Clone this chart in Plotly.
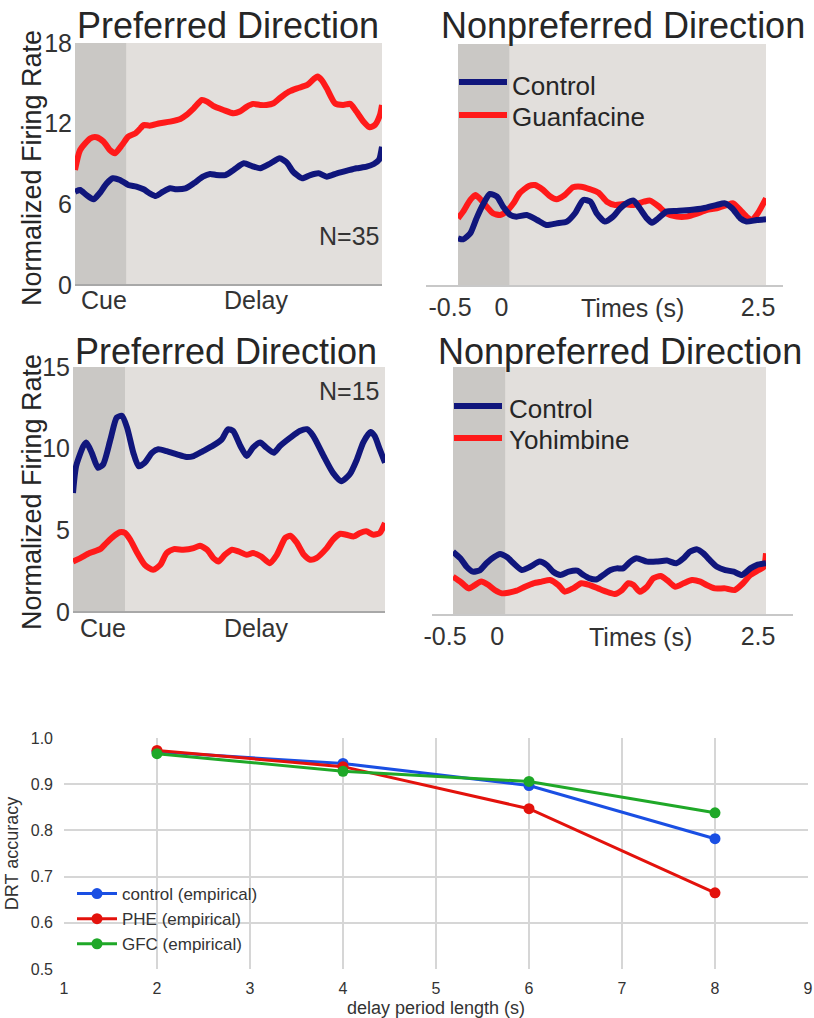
import plotly.graph_objects as go

# ---------------- data ----------------
# Guanfacine study, preferred direction (time in s, normalized firing rate)
gf_pref_ctrl_t = [-0.50, -0.45, -0.39, -0.32, -0.26, -0.19, -0.13, -0.06, 0.02, 0.10, 0.17, 0.23, 0.29, 0.36,
                  0.43, 0.49, 0.58, 0.66, 0.75, 0.82, 0.88, 0.97, 1.05, 1.15, 1.23, 1.31, 1.41, 1.50, 1.57,
                  1.63, 1.72, 1.80, 1.88, 1.96, 2.06, 2.16, 2.25, 2.35, 2.42, 2.47, 2.50]
gf_pref_ctrl = [6.94, 7.07, 6.70, 6.37, 6.82, 7.56, 7.94, 7.81, 7.44, 7.32, 7.12, 6.82, 6.62, 6.94, 7.19, 7.12,
                7.19, 7.56, 8.06, 8.26, 8.18, 8.18, 8.56, 9.05, 8.85, 8.68, 9.05, 9.42, 9.10, 8.43, 7.94, 8.18,
                8.31, 8.06, 8.31, 8.51, 8.68, 8.80, 9.00, 9.30, 10.29]
gf_pref_drug_t = [-0.50, -0.45, -0.35, -0.29, -0.22, -0.16, -0.11, -0.04, 0.02, 0.09, 0.14, 0.17, 0.23, 0.33,
                  0.43, 0.53, 0.59, 0.66, 0.74, 0.79, 0.85, 0.95, 1.05, 1.11, 1.18, 1.24, 1.31, 1.37, 1.44,
                  1.50, 1.59, 1.67, 1.77, 1.83, 1.87, 1.91, 1.96, 2.04, 2.12, 2.19, 2.25, 2.32, 2.38, 2.43,
                  2.48, 2.50]
gf_pref_drug = [8.56, 10.04, 10.91, 10.99, 10.66, 10.04, 9.80, 10.42, 11.04, 11.28, 11.66, 11.90, 11.85, 12.03,
                12.15, 12.35, 12.65, 13.14, 13.76, 13.64, 13.32, 13.02, 12.77, 12.90, 13.27, 13.47, 13.39, 13.39,
                13.52, 13.89, 14.38, 14.63, 14.88, 15.30, 15.50, 15.25, 14.63, 13.52, 13.39, 13.47, 12.90, 12.15,
                11.73, 11.90, 12.65, 13.39]

# Guanfacine study, nonpreferred direction
gf_non_ctrl_t = [-0.50, -0.45, -0.38, -0.32, -0.25, -0.19, -0.12, -0.06, 0.01, 0.07, 0.17, 0.27, 0.36, 0.46,
                 0.56, 0.64, 0.72, 0.79, 0.85, 0.93, 1.01, 1.08, 1.14, 1.21, 1.27, 1.34, 1.39, 1.45, 1.53,
                 1.63, 1.76, 1.89, 2.02, 2.10, 2.17, 2.25, 2.31, 2.41, 2.50]
gf_non_ctrl = [3.55, 3.47, 3.92, 5.03, 6.15, 6.85, 6.65, 5.90, 5.28, 5.16, 5.28, 4.91, 4.54, 4.66, 4.79, 5.41,
               6.40, 6.27, 5.41, 4.79, 5.16, 5.78, 6.15, 6.35, 5.78, 5.03, 4.71, 5.03, 5.53, 5.58, 5.65, 5.78,
               6.03, 6.15, 5.78, 5.03, 4.79, 4.91, 4.96]
gf_non_drug_t = [-0.50, -0.45, -0.38, -0.33, -0.29, -0.22, -0.16, -0.09, -0.03, 0.04, 0.10, 0.19, 0.25, 0.33,
                 0.40, 0.46, 0.54, 0.62, 0.70, 0.79, 0.87, 0.95, 1.03, 1.11, 1.21, 1.31, 1.37, 1.45, 1.53,
                 1.63, 1.73, 1.82, 1.92, 2.02, 2.12, 2.18, 2.25, 2.31, 2.36, 2.42, 2.50]
gf_non_drug = [5.03, 5.53, 6.40, 6.77, 6.52, 5.90, 5.41, 5.28, 5.53, 6.15, 6.90, 7.44, 7.51, 7.14, 6.65, 6.45,
               6.77, 7.34, 7.39, 7.19, 6.94, 6.27, 6.03, 6.10, 6.03, 6.27, 6.35, 5.95, 5.41, 5.16, 5.16, 5.36,
               5.65, 5.78, 6.03, 6.15, 5.65, 5.16, 4.91, 5.41, 6.52]

# Yohimbine study, preferred direction
yo_pref_ctrl_t = [-0.50, -0.47, -0.40, -0.37, -0.32, -0.26, -0.21, -0.14, -0.08, -0.03, 0.02, 0.08, 0.13, 0.19,
                  0.26, 0.32, 0.40, 0.50, 0.59, 0.66, 0.75, 0.85, 0.93, 0.99, 1.04, 1.11, 1.17, 1.23, 1.30,
                  1.36, 1.43, 1.49, 1.59, 1.68, 1.75, 1.81, 1.91, 2.00, 2.08, 2.16, 2.23, 2.29, 2.36, 2.40,
                  2.45, 2.50]
yo_pref_ctrl = [7.29, 8.93, 10.16, 10.37, 9.75, 8.83, 9.04, 10.57, 11.90, 12.01, 11.29, 9.75, 8.93, 9.14, 9.75,
                9.96, 9.85, 9.65, 9.49, 9.55, 9.85, 10.20, 10.57, 11.19, 11.08, 10.16, 9.55, 10.06, 10.37, 10.06,
                9.75, 10.16, 10.67, 11.08, 11.19, 10.78, 9.55, 8.52, 8.01, 8.42, 9.34, 10.37, 11.02, 10.78, 9.96,
                9.14]
yo_pref_drug_t = [-0.50, -0.43, -0.34, -0.24, -0.18, -0.11, -0.05, 0.00, 0.05, 0.11, 0.19, 0.27, 0.34, 0.40,
                  0.47, 0.56, 0.66, 0.72, 0.79, 0.85, 0.90, 0.96, 1.03, 1.09, 1.17, 1.23, 1.31, 1.39, 1.46,
                  1.54, 1.59, 1.65, 1.72, 1.78, 1.84, 1.94, 2.00, 2.07, 2.13, 2.20, 2.26, 2.32, 2.39, 2.45, 2.50]
yo_pref_drug = [3.09, 3.30, 3.61, 3.85, 4.22, 4.63, 4.88, 4.84, 4.43, 3.71, 2.89, 2.58, 2.89, 3.61, 3.85, 3.81,
                3.91, 4.06, 3.81, 3.30, 3.09, 3.50, 3.81, 3.71, 3.50, 3.61, 3.40, 2.99, 3.50, 4.53, 4.67, 4.26,
                3.50, 3.20, 3.30, 3.91, 4.43, 4.79, 4.73, 4.63, 4.84, 4.94, 4.73, 4.84, 5.45]

# Yohimbine study, nonpreferred direction
yo_non_ctrl_t = [-0.50, -0.43, -0.37, -0.31, -0.24, -0.18, -0.11, -0.05, 0.02, 0.08, 0.16, 0.24, 0.33, 0.40,
                 0.46, 0.53, 0.61, 0.69, 0.75, 0.81, 0.88, 0.94, 1.01, 1.07, 1.13, 1.20, 1.26, 1.36, 1.45,
                 1.55, 1.64, 1.71, 1.77, 1.84, 1.90, 1.96, 2.03, 2.11, 2.19, 2.27, 2.35, 2.41, 2.50]
yo_non_ctrl = [3.83, 3.43, 2.92, 2.62, 2.72, 3.13, 3.49, 3.69, 3.49, 3.13, 2.72, 2.92, 3.23, 3.02, 2.62, 2.42,
               2.62, 2.68, 2.42, 2.22, 2.16, 2.42, 2.72, 2.82, 2.82, 3.23, 3.43, 3.23, 3.23, 3.29, 3.13, 3.43,
               3.83, 3.97, 3.73, 3.33, 2.92, 2.72, 2.62, 2.42, 2.82, 3.02, 3.13]
yo_non_drug_t = [-0.50, -0.43, -0.35, -0.29, -0.23, -0.16, -0.10, -0.03, 0.03, 0.11, 0.19, 0.27, 0.35, 0.43,
                 0.51, 0.57, 0.65, 0.73, 0.81, 0.89, 0.97, 1.05, 1.12, 1.18, 1.23, 1.29, 1.36, 1.42, 1.49,
                 1.55, 1.63, 1.71, 1.79, 1.87, 1.93, 2.01, 2.11, 2.20, 2.28, 2.35, 2.43, 2.48, 2.50]
yo_non_drug = [2.32, 2.02, 1.61, 1.81, 2.02, 1.81, 1.51, 1.31, 1.35, 1.47, 1.71, 1.92, 2.02, 2.12, 1.81, 1.41,
               1.61, 1.92, 1.81, 1.61, 1.41, 1.27, 1.51, 1.92, 1.81, 1.41, 1.71, 2.22, 2.36, 2.12, 1.71, 1.92,
               2.12, 2.02, 1.81, 1.61, 1.61, 1.51, 1.92, 2.42, 2.72, 2.92, 3.73]

# Delayed-response task accuracy vs delay length
delay_s = [2, 4, 6, 8]
acc_control = [0.970, 0.945, 0.897, 0.782]
acc_phe = [0.973, 0.938, 0.847, 0.665]
acc_gfc = [0.966, 0.928, 0.906, 0.838]
acc_names = ["control (empirical)", "PHE (empirical)", "GFC (empirical)"]

pref_yticks_gf = [0, 6, 12, 18]
pref_yticks_yo = [0, 5, 10, 15]
time_ticks = [-0.5, 0, 2.5]
time_ticktext = ["-0.5", "0", "2.5"]

# ---------------- styling ----------------
W, H = 814, 1018
FONT = "Liberation Sans, Arial, sans-serif"
TXT = "#262626"
NAVY = "#10167c"
RED = "#ff1a1a"
PANEL_BG = "#e2dfdc"
CUE_BG = "#cac8c5"
C_BLUE, C_RED, C_GREEN = "#1a4fe3", "#e3120c", "#1fa828"


def px(x):
    return x / W


def py(y):
    return 1 - y / H


fig = go.Figure()

panels = [
    # axis suffix, x-domain px, y-domain px, y-range, control, drug
    ("", (75, 382), (43, 285), [0, 18], (gf_pref_ctrl_t, gf_pref_ctrl), (gf_pref_drug_t, gf_pref_drug)),
    ("2", (458, 766), (44, 286), [0, 18], (gf_non_ctrl_t, gf_non_ctrl), (gf_non_drug_t, gf_non_drug)),
    ("3", (73, 385), (367, 612), [0, 15], (yo_pref_ctrl_t, yo_pref_ctrl), (yo_pref_drug_t, yo_pref_drug)),
    ("4", (453, 766), (367, 615), [0, 15], (yo_non_ctrl_t, yo_non_ctrl), (yo_non_drug_t, yo_non_drug)),
]

shapes = []
layout_axes = {}
for suf, (x0, x1), (y0, y1), yr, ctrl, drug in panels:
    xa, ya = "x" + suf, "y" + suf
    for (t, v), col in ((drug, RED), (ctrl, NAVY)):
        fig.add_trace(go.Scatter(x=t, y=v, xaxis=xa, yaxis=ya, mode="lines",
                                 line=dict(color=col, width=6, shape="spline", smoothing=0.6),
                                 showlegend=False, hoverinfo="skip"))
    layout_axes["xaxis" + suf] = dict(domain=[px(x0), px(x1)], anchor=ya, range=[-0.5, 2.5],
                                      showgrid=False, zeroline=False, showline=False, ticks="",
                                      showticklabels=False, automargin=False)
    layout_axes["yaxis" + suf] = dict(domain=[py(y1), py(y0)], anchor=xa, range=yr,
                                      showgrid=False, zeroline=False, showline=False, ticks="",
                                      showticklabels=False, automargin=False)
    # panel background and cue epoch shading
    shapes.append(dict(type="rect", xref=xa + " domain", yref=ya + " domain", x0=0, x1=1, y0=0, y1=1,
                       fillcolor=PANEL_BG, line_width=0, layer="below"))
    shapes.append(dict(type="rect", xref=xa, yref=ya + " domain", x0=-0.5, x1=0, y0=0, y1=1,
                       fillcolor=CUE_BG, line_width=0, layer="below"))

# y tick labels on the preferred-direction panels
for suf, vals in (("", pref_yticks_gf), ("3", pref_yticks_yo)):
    layout_axes["yaxis" + suf].update(showticklabels=True, tickvals=vals,
                                      tickfont=dict(size=25, color="#333333", family=FONT),
                                      ticklabelstandoff=2)
# time tick labels on the nonpreferred-direction panels
for suf in ("2", "4"):
    layout_axes["xaxis" + suf].update(showticklabels=True, tickvals=time_ticks, ticktext=time_ticktext,
                                      tickfont=dict(size=25, color="#333333", family=FONT),
                                      ticklabelshift=-8, ticklabelstandoff=4)

# baselines under the panels
for (xa0, xa1, yy, col) in ((75, 382, 285, "#a8a8a8"), (426, 783, 286, "#c8c8c8"),
                            (73, 385, 612, "#a8a8a8"), (432, 793, 615, "#c8c8c8")):
    shapes.append(dict(type="line", xref="paper", yref="paper", x0=px(xa0), x1=px(xa1),
                       y0=py(yy), y1=py(yy), line=dict(color=col, width=2)))

# in-panel legends
legend_rows = [(459, 507, 82, 510, 86, NAVY, "Control"), (459, 507, 115, 510, 117, RED, "Guanfacine"),
               (454, 502, 406, 507, 409, NAVY, "Control"), (454, 502, 438, 507, 440, RED, "Yohimbine")]
annotations = []
for lx0, lx1, ly, tx, ty, col, label in legend_rows:
    shapes.append(dict(type="line", xref="paper", yref="paper", x0=px(lx0), x1=px(lx1),
                       y0=py(ly), y1=py(ly), line=dict(color=col, width=6)))
    annotations.append(dict(text=label, x=px(tx), y=py(ty), xref="paper", yref="paper",
                            xanchor="left", yanchor="middle", showarrow=False,
                            font=dict(size=26, color=TXT, family=FONT)))


def note(text, x, y, size, xanchor="center", angle=0, color=TXT):
    annotations.append(dict(text=text, x=px(x), y=py(y), xref="paper", yref="paper",
                            xanchor=xanchor, yanchor="middle", showarrow=False, textangle=angle,
                            font=dict(size=size, color=color, family=FONT)))


note("Preferred Direction", 228, 25, 36)
note("Nonpreferred Direction", 623, 25, 36)
note("Preferred Direction", 226, 351, 36)
note("Nonpreferred Direction", 620, 351, 36)
note("Normalized Firing Rate", 32, 168, 27, angle=-90)
note("Normalized Firing Rate", 32, 492, 27, angle=-90)
note("N=35", 381, 236, 25, xanchor="right", color="#333333")
note("N=15", 381, 391, 25, xanchor="right", color="#333333")
note("Cue", 104, 300, 25, color="#333333")
note("Delay", 256, 300, 25, color="#333333")
note("Cue", 103, 628, 25, color="#333333")
note("Delay", 256, 628, 25, color="#333333")
note("Times (s)", 632, 308, 25, color="#333333")
note("Times (s)", 640, 637, 25, color="#333333")

# ---------------- accuracy chart ----------------
for name, vals, col in zip(acc_names, (acc_control, acc_phe, acc_gfc), (C_BLUE, C_RED, C_GREEN)):
    fig.add_trace(go.Scatter(x=delay_s, y=vals, xaxis="x5", yaxis="y5", name=name, mode="lines+markers",
                             legendgroup=name, line=dict(color=col, width=3),
                             marker=dict(color=col, size=11)))

GRID = "#d6d6d6"
layout_axes["xaxis5"] = dict(domain=[px(64), px(808)], anchor="y5", range=[1, 9], dtick=1,
                             showgrid=True, gridcolor=GRID, gridwidth=1.5, zeroline=False,
                             showline=False, ticks="", tickfont=dict(size=16, color="#333333"),
                             ticklabelstandoff=8, automargin=False,
                             title=dict(text="delay period length (s)", font=dict(size=18, color="#333333"),
                                        standoff=14))
layout_axes["yaxis5"] = dict(domain=[py(969), py(738)], anchor="x5", range=[0.5, 1.0], dtick=0.1,
                             tickformat=".1f", showgrid=True, gridcolor=GRID, gridwidth=1.5,
                             zeroline=False, showline=False, ticks="", tickfont=dict(size=16, color="#333333"),
                             ticklabelstandoff=10, automargin=False,
                             title=dict(text="DRT accuracy", font=dict(size=18, color="#333333"), standoff=7))

fig.update_layout(
    width=W, height=H, margin=dict(l=0, r=0, t=0, b=0, autoexpand=False),
    paper_bgcolor="white", plot_bgcolor="white",
    font=dict(family=FONT, color=TXT),
    shapes=shapes, annotations=annotations,
    showlegend=True,
    legend=dict(x=px(72), y=py(876), xanchor="left", yanchor="top", bgcolor="rgba(0,0,0,0)",
                font=dict(size=17, color="#333333"), tracegroupgap=4, traceorder="normal",
                itemwidth=40),
    **layout_axes,
)

fig.write_html("out.html")
